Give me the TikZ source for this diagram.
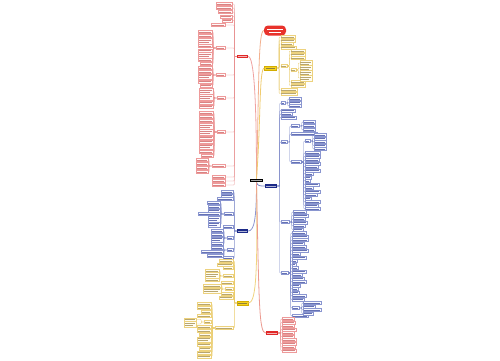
\documentclass[tikz,border=0pt]{standalone}
\usetikzlibrary{calc}
\definecolor{nodeR}{HTML}{E02828}
\definecolor{pillR}{HTML}{E8332C}
\definecolor{lineR}{HTML}{E88C8C}
\definecolor{bordR}{HTML}{EE9A9A}
\definecolor{fillR}{HTML}{FFFAFA}
\definecolor{textR}{HTML}{D88484}
\definecolor{nodeB}{HTML}{1C2A88}
\definecolor{lineB}{HTML}{7C88C8}
\definecolor{bordB}{HTML}{8A96D0}
\definecolor{fillB}{HTML}{FAFBFF}
\definecolor{textB}{HTML}{6672B4}
\definecolor{nodeY}{HTML}{F5D220}
\definecolor{edgeY}{HTML}{D2AC00}
\definecolor{lineY}{HTML}{EACB6A}
\definecolor{bordY}{HTML}{EDD27E}
\definecolor{fillY}{HTML}{FFFDF3}
\definecolor{textY}{HTML}{B8A670}
\definecolor{mRL}{HTML}{F0A2A0}
\definecolor{mP}{HTML}{F2B08E}
\definecolor{mYR}{HTML}{F0CC70}
\definecolor{mBR}{HTML}{7C88C8}
\definecolor{mBL}{HTML}{8C96D0}
\definecolor{mYL}{HTML}{F0D480}
\definecolor{mRB}{HTML}{EC9A90}
\tikzset{
  leafR/.style={rectangle, inner sep=0pt, draw=bordR, fill=fillR, line width=0.25pt},
  leafB/.style={rectangle, inner sep=0pt, draw=bordB, fill=fillB, line width=0.25pt},
  leafY/.style={rectangle, inner sep=0pt, draw=bordY, fill=fillY, line width=0.25pt},
  lnR/.style={draw=lineR, line width=0.35pt, rounded corners=0.8pt},
  lnB/.style={draw=lineB, line width=0.35pt, rounded corners=0.8pt},
  lnY/.style={draw=lineY, line width=0.35pt, rounded corners=0.8pt},
  mainnode/.style={rectangle, inner sep=0pt, minimum height=3.4pt},
  trunk/.style={line width=0.8pt},
}
% #1 parent, #2 prefix, #3 edge x, #4 colour letter, #5 list i/y/width/lines
\newcommand\kidsL[5]{%
  \foreach \i/\yy/\w/\h in {#5}{%
    \node[leaf#4, minimum width=\w*1pt, minimum height=\h*2.5pt+0.3pt, anchor=east] (#2\i) at (#3,\yy) {};
    \draw[ln#4] (#1.west) -- ++(-2.5,0) |- (#2\i.east);
    \ifnum\h=1
      \fill[text#4] ([xshift=0.8pt,yshift=-0.3pt]#2\i.west) rectangle ([xshift=-1.2pt,yshift=0.3pt]#2\i.east);
    \else
      \fill[text#4] ([xshift=0.8pt,yshift=0.7pt]#2\i.west) rectangle ([xshift=-1.2pt,yshift=1.3pt]#2\i.east);
      \fill[text#4] ([xshift=0.8pt,yshift=-0.7pt]#2\i.west) rectangle ([xshift=-3pt,yshift=-1.3pt]#2\i.east);
    \fi
  }}
\newcommand\kidsR[5]{%
  \foreach \i/\yy/\w/\h in {#5}{%
    \node[leaf#4, minimum width=\w*1pt, minimum height=\h*2.5pt+0.3pt, anchor=west] (#2\i) at (#3,\yy) {};
    \draw[ln#4] (#1.east) -- ++(2.5,0) |- (#2\i.west);
    \ifnum\h=1
      \fill[text#4] ([xshift=0.8pt,yshift=-0.3pt]#2\i.west) rectangle ([xshift=-1.2pt,yshift=0.3pt]#2\i.east);
    \else
      \fill[text#4] ([xshift=0.8pt,yshift=0.7pt]#2\i.west) rectangle ([xshift=-1.2pt,yshift=1.3pt]#2\i.east);
      \fill[text#4] ([xshift=0.8pt,yshift=-0.7pt]#2\i.west) rectangle ([xshift=-3pt,yshift=-1.3pt]#2\i.east);
    \fi
  }}
\begin{document}
\begin{tikzpicture}[x=1pt,y=-1pt]
\fill[white] (0,0) rectangle (500,360);
\useasboundingbox (0,0) rectangle (500,360);

% centre and main branches
\node[mainnode, fill=black, minimum width=13pt, minimum height=3.2pt] (C) at (256.5,180.5) {};
\node[mainnode, fill=nodeR, minimum width=11pt] (RL) at (242.5,56.5) {};
\node[rectangle, rounded corners=4pt, fill=pillR, minimum width=22pt, minimum height=10pt, inner sep=0pt] (P) at (275,30.5) {};
\node[mainnode, fill=nodeY, draw=edgeY, line width=.3pt, minimum width=12pt] (YR) at (270.5,68) {};
\node[mainnode, fill=nodeB, minimum width=12pt] (BR) at (271,186) {};
\node[mainnode, fill=nodeB, minimum width=11pt] (BL) at (242.5,231) {};
\node[mainnode, fill=nodeY, draw=edgeY, line width=.3pt, minimum width=11pt] (YL) at (242.5,303) {};
\node[mainnode, fill=nodeR, minimum width=12pt] (RB) at (272,333) {};

\foreach \n in {C,RL,BR,BL,RB}{
  \fill[white,opacity=.65] ([xshift=1.2pt,yshift=-.35pt]\n.west) rectangle ([xshift=-1.2pt,yshift=.35pt]\n.east);}
\foreach \n in {YR,YL}{
  \fill[black!70,opacity=.6] ([xshift=1.2pt,yshift=-.35pt]\n.west) rectangle ([xshift=-1.2pt,yshift=.35pt]\n.east);}
\fill[white] ([xshift=3.5pt,yshift=1.1pt]P.west) rectangle ([xshift=-3.5pt,yshift=2pt]P.east);
\fill[white] ([xshift=5.5pt,yshift=-1.1pt]P.west) rectangle ([xshift=-5.5pt,yshift=-2pt]P.east);

% trunk connectors
\draw[trunk, draw=mRL] (C.north) .. controls (256.5,100) and (254,56.5) .. (RL.east);
\draw[trunk, draw=mP] (C.north) .. controls (259,90) and (258,30.5) .. (P.west);
\draw[trunk, draw=mYR] (C.north) .. controls (261,120) and (259,68) .. (YR.west);
\draw[trunk, draw=mBR] (C.south) .. controls (257.5,186) and (260,186) .. (BR.west);
\draw[trunk, draw=mBL] (C.south) .. controls (256.5,220) and (254,231) .. (BL.east);
\draw[trunk, draw=mYL] (C.south) .. controls (258,285) and (255,303) .. (YL.east);
\draw[trunk, draw=mRB] (C.south) .. controls (259,305) and (259,333) .. (RB.west);

% ---------- red, left ----------
\kidsL{RL}{rla}{232}{R}{1/4/16/1, 2/8/16/1, 3/12/14/1, 4/16.5/12/1, 5/20.5/10/1}
\kidsL{RL}{rlb}{225}{R}{1/25/14/1, 2/48/9/1, 3/75/9/1, 4/98/8/1, 5/132/8/1, 6/166/13/1, 7/177/13/1, 8/181/13/1, 9/185/13/1}
\kidsL{rlb2}{rlc}{212}{R}{1/32/14/1, 2/36/14/1, 3/41/14/2, 4/46/14/1, 5/50.5/14/1, 6/55/14/2, 7/60/14/1, 8/64/12/1}
\kidsL{rlb3}{rld}{212}{R}{1/68/14/1, 2/72/14/1, 3/76.5/14/2, 4/81.5/14/1, 5/85.5/12/1}
\kidsL{rlb4}{rle}{213}{R}{1/91/14/2, 2/97/14/2, 3/102.5/14/1, 4/106.5/14/1}
\kidsL{rlb5}{rlf}{213}{R}{1/113/14/1, 2/117/14/1, 3/121/14/1, 4/126/14/2, 5/132/14/2, 6/137.5/14/1, 7/141.5/14/1, 8/146.5/14/2, 9/152/14/1, 10/156/12/1}
\kidsL{rlb6}{rlg}{208}{R}{1/160/12/1, 2/164/12/1, 3/168/12/1, 4/172/12/1}

% ---------- yellow, right ----------
\kidsR{YR}{yra}{280.5}{Y}{1/37/14/1, 2/40.5/14/1, 3/44/12/1, 4/47.5/15/1, 5/66/6/1, 6/90/16/1, 7/93.5/16/1}
\kidsR{yra5}{yrb}{290.5}{Y}{1/51/14/1, 2/54.5/14/1, 3/58/14/1, 4/70/5/1, 5/82/14/1, 6/85.5/14/1}
\kidsR{yrb4}{yrc}{299.5}{Y}{1/63/12/2, 2/68/12/2, 3/73/12/2, 4/78/12/2}

% ---------- blue, right ----------
\kidsR{BR}{bra}{281}{B}{1/103/4/1, 2/110.5/14/1, 3/114/11/1, 4/117.5/15/1, 5/142/6/1, 6/222/8/1, 7/273/7/1}
\kidsR{bra1}{brb}{289}{B}{1/99/12/1, 2/102.5/12/1, 3/106/12/1}
\kidsR{bra5}{brc}{291}{B}{1/126/8/1, 2/134/26/1, 3/162/10/1}
\kidsR{brc1}{brd}{303}{B}{1/122/12/1, 2/126/12/1, 3/130/12/1}
\kidsR{brc3}{bre}{305}{B}{1/141/5/1, 2/153/15/1, 3/156.5/15/1, 4/160/14/1, 5/163.5/15/1, 6/167/13/1, 7/170.5/15/1, 8/174/8/1, 9/177.5/6/1, 10/181/5/1, 11/184.5/14/1, 12/188/8/1, 13/191.5/15/1, 14/195/12/1, 15/198.5/6/1, 16/202/15/1, 17/205.5/13/1, 18/209/15/1}
\kidsR{bre1}{brf}{314}{B}{1/135/12/1, 2/138.5/12/1, 3/142/12/1, 4/145.5/12/1, 5/149/12/1}
\kidsR{bra6}{brg}{293}{B}{1/212/13/1, 2/215.5/15/1, 3/219/12/1, 4/222.5/14/1, 5/226/12/1, 6/229.5/10/1}
\kidsR{bra7}{brh}{292}{B}{1/233/14/1, 2/236.5/16/1, 3/240/16/1, 4/243.5/12/1, 5/247/14/1, 6/250.5/16/1, 7/254/8/1, 8/257.5/14/1, 9/261/5/1, 10/264.5/4/1, 11/268/6/1, 12/271.5/14/1, 13/275/10/1, 14/278.5/12/1, 15/282/14/1, 16/285.5/8/1, 17/289/6/1, 18/292.5/7/1, 19/296/14/1, 20/299.5/12/1, 21/308/7/1, 22/316/16/1}
\kidsR{brh21}{bri}{303}{B}{1/303/18/1, 2/306.5/12/1, 3/310/18/1, 4/313.5/10/1}

% ---------- blue, left ----------
\kidsL{BL}{bla}{233}{B}{1/192/12/1, 2/195.5/12/1, 3/199/16/1, 4/214/9/1, 5/227/10/1, 6/238/6/1, 7/250/6/1, 8/258/10/1}
\kidsL{bla4}{blb}{220}{B}{1/203/13/1, 2/207/12/1, 3/210.5/12/1, 4/214/22/1, 5/219/12/2, 6/224.5/12/2}
\kidsL{bla6}{blc}{223}{B}{1/231/12/1, 2/235/12/1, 3/239.5/12/2, 4/244/12/1}
\kidsL{bla7}{bld}{223}{B}{1/248/12/1, 2/252/22/1, 3/256/16/1}

% ---------- yellow, left ----------
\kidsL{YL}{yla}{233}{Y}{1/261/14/1, 2/264.5/16/1, 3/268/10/1, 4/276/10/1, 5/283/12/1, 6/289/8/1, 7/294/12/1, 8/297.5/14/1, 9/328/18/1}
\kidsL{yla4}{ylb}{219}{Y}{1/271/14/1, 2/275/14/2, 3/280/14/1}
\kidsL{yla6}{ylc}{221}{Y}{1/286/18/1, 2/290.5/18/2}
\kidsL{yla9}{yld}{211}{Y}{1/304/14/1, 2/308/14/1, 3/312/10/1, 4/316/14/1, 5/322/7/1, 6/327/14/1, 7/331/14/1, 8/335/12/1, 9/339.5/14/2, 10/344.5/14/1, 11/348.5/12/1, 12/352.5/14/1, 13/356.5/14/1}
\kidsL{yld5}{yle}{196}{Y}{1/319.5/12/1, 2/324/12/2}

% ---------- red, bottom right ----------
\kidsR{RB}{rba}{282}{R}{1/319/12/1, 2/322.5/13/1, 3/326/12/1, 4/329.5/14/1, 5/333/12/1, 6/336.5/12/1, 7/340/14/1, 8/343.5/14/1, 9/347/13/1, 10/350.5/14/1}
\end{tikzpicture}
\end{document}
